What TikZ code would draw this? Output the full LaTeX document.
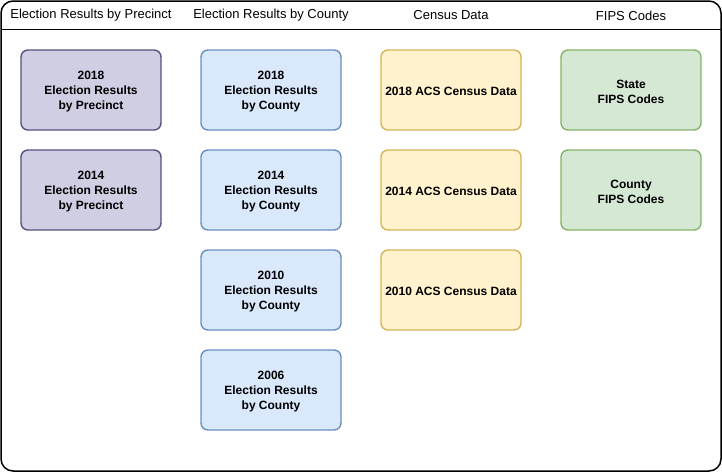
\documentclass[tikz,border=0pt]{standalone}
\usepackage{fontspec}
\setmainfont{Liberation Sans}
\definecolor{pfill}{HTML}{D0CEE2}\definecolor{pdraw}{HTML}{56517E}
\definecolor{bfill}{HTML}{DAE8FC}\definecolor{bdraw}{HTML}{6C8EBF}
\definecolor{yfill}{HTML}{FFF2CC}\definecolor{ydraw}{HTML}{D6B656}
\definecolor{gfill}{HTML}{D5E8D4}\definecolor{gdraw}{HTML}{82B366}
\tikzset{
  box/.style={rounded corners=7pt, line width=1.4pt, minimum width=140pt, minimum height=80pt, inner sep=0pt},
  boxtext/.style={align=center, font=\fontsize{12pt}{15pt}\selectfont\bfseries, inner sep=0pt, yshift=-1.8pt},
  pbox/.style={box, fill=pfill, draw=pdraw},
  bbox/.style={box, fill=bfill, draw=bdraw},
  ybox/.style={box, fill=yfill, draw=ydraw},
  gbox/.style={box, fill=gfill, draw=gdraw},
  hdr/.style={font=\fontsize{13pt}{15pt}\selectfont, inner sep=0pt}
}
\newcommand{\mybox}[4]{%
  \node[#1] (#2) at (#3) {};
  \node[boxtext] (#2t) at (#2.center) {#4};}
\begin{document}
\begin{tikzpicture}[x=1pt,y=-1pt]
\useasboundingbox (0,0) rectangle (722,472);
\draw[line width=1.5pt, rounded corners=12pt] (1,1) rectangle (721,471);
\draw[line width=1.5pt] (1,29.5) -- (721,29.5);
\node[hdr] (h1) at (91,15.5) {Election Results by Precinct};
\node[hdr] (h2) at (271,15.5) {Election Results by County};
\node[hdr] (h3) at (451,15.5) {Census Data};
\node[hdr] (h4) at (631,15.5) {FIPS Codes};
\mybox{pbox}{p18}{91,90}{2018\\Election Results\\by Precinct}
\mybox{pbox}{p14}{91,190}{2014\\Election Results\\by Precinct}
\mybox{bbox}{c18}{271,90}{2018\\Election Results\\by County}
\mybox{bbox}{c14}{271,190}{2014\\Election Results\\by County}
\mybox{bbox}{c10}{271,290}{2010\\Election Results\\by County}
\mybox{bbox}{c06}{271,390}{2006\\Election Results\\by County}
\mybox{ybox}{a18}{451,90}{2018 ACS Census Data}
\mybox{ybox}{a14}{451,190}{2014 ACS Census Data}
\mybox{ybox}{a10}{451,290}{2010 ACS Census Data}
\mybox{gbox}{fs}{631,90}{State\\FIPS Codes}
\mybox{gbox}{fc}{631,190}{County\\FIPS Codes}
\end{tikzpicture}
\end{document}
